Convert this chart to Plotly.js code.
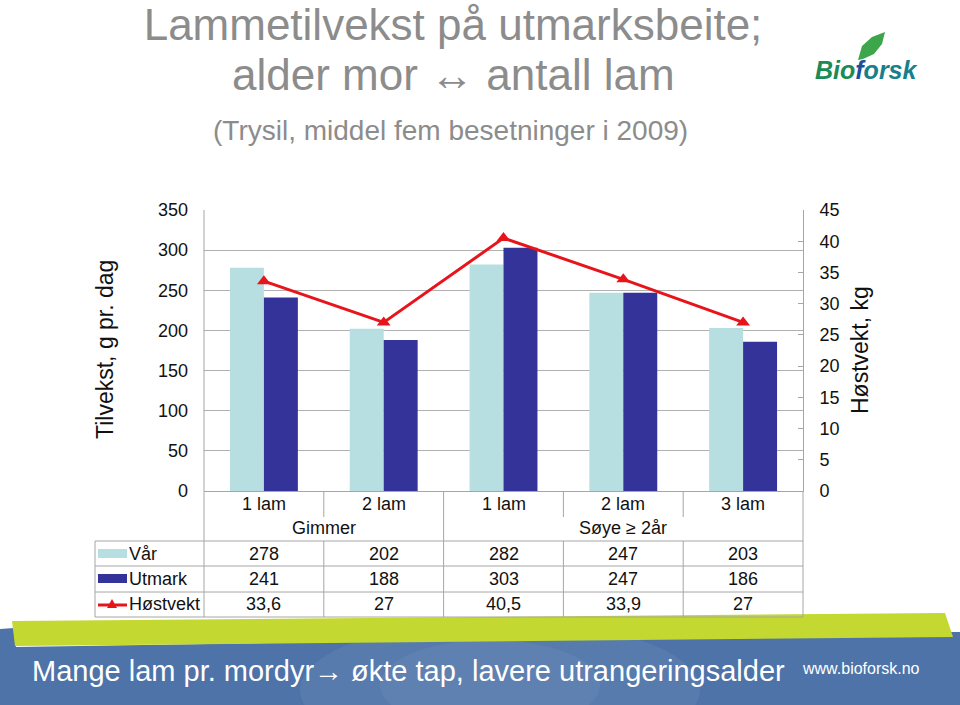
<!DOCTYPE html>
<html><head><meta charset="utf-8">
<script src="https://cdn.plot.ly/plotly-3.0.1.min.js"></script>
<style>html,body{margin:0;padding:0;background:#fff}#chart{width:960px;height:705px}</style>
</head><body><div id="chart"></div>
<script>
// ---- data ----
const subLabels = ['1 lam', '2 lam', '1 lam', '2 lam', '3 lam'];
const groupLabels = ['Gimmer', 'Søye ≥ 2år'];
const groupSizes = [2, 3];
const seriesNames = ['Vår', 'Utmark', 'Høstvekt'];
const varValues = [278, 202, 282, 247, 203];
const utmarkValues = [241, 188, 303, 247, 186];
const hostvektValues = [33.6, 27, 40.5, 33.9, 27];
const leftTitle = 'Tilvekst, g pr. dag';
const rightTitle = 'Høstvekt, kg';
const titleLine1 = 'Lammetilvekst på utmarksbeite;';
const titleLine2 = 'alder mor ↔ antall lam';
const subtitle = '(Trysil, middel fem besetninger i 2009)';
const footerText = 'Mange lam pr. mordyr→ økte tap, lavere utrangeringsalder';
const footerUrl = 'www.bioforsk.no';

// ---- styling ----
const C_VAR = '#b7dfe2', C_UT = '#333399', C_HV = '#e8141c', C_GRID = '#b0b0b0', C_LINE = '#a6a6a6';
const FONT = 'Liberation Sans, Arial, sans-serif';
const W = 960, H = 705, L = 204, R = 803, T = 210, B = 491;
const px = x => (x - L) / (R - L);
const py = y => (B - y) / (B - T);
const idx = subLabels.map((_, i) => i);
const fmt = v => String(v).replace('.', ',');

const shapes = [];
const ann = [];
function hline(x0, x1, y, color, w) {
  shapes.push({type:'line', xref:'paper', yref:'paper', x0:px(x0), x1:px(x1), y0:py(y), y1:py(y), line:{color:color||C_LINE, width:w||1}});
}
function vlinePx(x, y0, y1) {
  shapes.push({type:'line', xref:'paper', yref:'paper', x0:px(x), x1:px(x), y0:py(y0), y1:py(y1), line:{color:C_LINE, width:1}});
}
function vlineData(xv, y0, y1) {
  shapes.push({type:'line', xref:'x', yref:'paper', x0:xv, x1:xv, y0:py(y0), y1:py(y1), line:{color:C_LINE, width:1}});
}
function poly(pts, fill, opacity) {
  const d = pts.map((p, i) => (i ? 'L' : 'M') + px(p[0]).toFixed(5) + ',' + py(p[1]).toFixed(5)).join(' ') + ' Z';
  shapes.push({type:'path', xref:'paper', yref:'paper', path:d, fillcolor:fill, opacity:opacity||1, line:{width:0}, layer:'above'});
}

// ---- footer band ----
poly([[0,629],[14,628],[16,647],[953,632],[960,632],[960,705],[0,705]], '#4d73a8');
shapes.push({type:'circle', xref:'paper', yref:'paper', x0:px(300), x1:px(700), y0:py(760), y1:py(620), fillcolor:'#ffffff', opacity:0.06, line:{width:0}, layer:'above'});
shapes.push({type:'circle', xref:'paper', yref:'paper', x0:px(380), x1:px(600), y0:py(730), y1:py(640), fillcolor:'#ffffff', opacity:0.05, line:{width:0}, layer:'above'});
poly([[12,621],[945,613],[953,637],[15,646]], '#c3d831');

// ---- table / category area ----
const rowLines = [541, 566, 592, 617];
rowLines.forEach(y => hline(95, R, y));
vlinePx(95, 541, 617);
vlinePx(L, 210, 617);
vlinePx(R, 491, 617);
const groupBounds = [];
let acc = 0;
groupSizes.forEach(s => { acc += s; groupBounds.push(acc - 0.5); });
for (let i = 0; i < subLabels.length - 1; i++) {
  const xb = i + 0.5;
  const isGroup = groupBounds.includes(xb);
  vlineData(xb, 491, isGroup ? 541 : 517);
  vlineData(xb, 541, 617);
}
// sub labels
subLabels.forEach((s, i) => ann.push({xref:'x', yref:'paper', x:i, y:py(504), text:s, showarrow:false, font:{family:FONT, size:18, color:'#111'}, xanchor:'center', yanchor:'middle'}));
// group labels
acc = 0;
groupLabels.forEach((g, k) => {
  const c = acc + (groupSizes[k] - 1) / 2; acc += groupSizes[k];
  ann.push({xref:'x', yref:'paper', x:c, y:py(528), text:g, showarrow:false, font:{family:FONT, size:18, color:'#111'}, xanchor:'center', yanchor:'middle'});
});
// rows
const rowY = [554, 579, 604];
const rowVals = [varValues, utmarkValues, hostvektValues];
seriesNames.forEach((n, r) => {
  ann.push({xref:'paper', yref:'paper', x:px(127), y:py(rowY[r]), text:n, showarrow:false, xanchor:'left', yanchor:'middle', font:{family:FONT, size:18, color:'#111'}});
  rowVals[r].forEach((v, i) => ann.push({xref:'x', yref:'paper', x:i, y:py(rowY[r]), text:fmt(v), showarrow:false, xanchor:'center', yanchor:'middle', font:{family:FONT, size:18, color:'#111'}}));
});
// legend keys
shapes.push({type:'rect', xref:'paper', yref:'paper', x0:px(98), x1:px(127), y0:py(558), y1:py(549), fillcolor:C_VAR, line:{width:0}});
shapes.push({type:'rect', xref:'paper', yref:'paper', x0:px(98), x1:px(127), y0:py(583), y1:py(574), fillcolor:C_UT, line:{width:0}});
hline(98, 127, 605, C_HV, 3);
poly([[107,608],[117,608],[112,599]], C_HV);

// ---- titles ----
ann.push({xref:'paper', yref:'paper', x:px(453), y:py(74), text:titleLine2, showarrow:false, xanchor:'center', yanchor:'middle', font:{family:FONT, size:44, color:'#8c8c8c'}});
ann.push({xref:'paper', yref:'paper', x:px(450), y:py(131), text:subtitle, showarrow:false, xanchor:'center', yanchor:'middle', font:{family:FONT, size:28, color:'#8c8c8c'}});
ann.push({xref:'paper', yref:'paper', x:px(105), y:py(350), text:leftTitle, textangle:-90, showarrow:false, xanchor:'center', yanchor:'middle', font:{family:FONT, size:23, color:'#111'}});
ann.push({xref:'paper', yref:'paper', x:px(860), y:py(350), text:rightTitle, textangle:-90, showarrow:false, xanchor:'center', yanchor:'middle', font:{family:FONT, size:23, color:'#111'}});
// footer texts
ann.push({xref:'paper', yref:'paper', x:px(30), y:py(671), text:footerText, showarrow:false, xanchor:'left', yanchor:'middle', font:{family:FONT, size:29, color:'#ffffff'}});
ann.push({xref:'paper', yref:'paper', x:px(800), y:py(668), text:footerUrl, showarrow:false, xanchor:'left', yanchor:'middle', font:{family:FONT, size:16, color:'#ffffff'}});
// logo
poly([[858,60],[862,46],[872,37],[885,32],[882,44],[874,54],[863,59]], '#3da64a');
ann.push({xref:'paper', yref:'paper', x:px(866), y:py(70), text:'<span style="color:#1b8a55">Bio</span><span style="color:#1a4f9c">f</span><span style="color:#17808a">orsk</span>', showarrow:false, xanchor:'center', yanchor:'middle', font:{family:FONT, size:25, weight:'bold', style:'italic', color:'#1b8a55'}});

// ---- traces ----
const traces = [
  {type:'bar', name:seriesNames[0], x:idx, y:varValues, marker:{color:C_VAR}, hoverinfo:'y'},
  {type:'bar', name:seriesNames[1], x:idx, y:utmarkValues, marker:{color:C_UT}, hoverinfo:'y'},
  {type:'scatter', mode:'lines+markers', name:seriesNames[2], x:idx, y:hostvektValues, yaxis:'y2',
   line:{color:C_HV, width:3}, marker:{symbol:'triangle-up', size:12, color:C_HV}, hoverinfo:'y'}
];

const layout = {
  width:W, height:H,
  margin:{l:L, r:W - R, t:T, b:H - B, pad:0},
  paper_bgcolor:'#ffffff', plot_bgcolor:'#ffffff',
  showlegend:false,
  barmode:'group', bargap:0.433, bargroupgap:0,
  font:{family:FONT, color:'#111'},
  title:{text:titleLine1, x:453 / W, xanchor:'center', xref:'container', y:1 - 25 / H, yref:'container', yanchor:'middle',
         font:{family:FONT, size:44, color:'#8c8c8c'}},
  xaxis:{range:[-0.5, subLabels.length - 0.5], showticklabels:false, showgrid:false, zeroline:false,
         showline:true, linecolor:C_LINE, ticks:'', fixedrange:true},
  yaxis:{range:[0, 350], dtick:50, tick0:0, showgrid:true, gridcolor:C_GRID, gridwidth:1, zeroline:false,
         showline:false, ticks:'', ticklabelstandoff:15, tickfont:{family:FONT, size:18, color:'#111'}, fixedrange:true},
  yaxis2:{overlaying:'y', side:'right', range:[0, 45], dtick:5, tick0:0, showgrid:false, zeroline:false,
          showline:true, linecolor:C_LINE, ticks:'inside', ticklen:5, tickcolor:C_LINE,
          ticklabelstandoff:12, tickfont:{family:FONT, size:18, color:'#111'}, fixedrange:true},
  shapes:shapes,
  annotations:ann
};
Plotly.newPlot('chart', traces, layout, {staticPlot:true, displayModeBar:false});
</script></body></html>
